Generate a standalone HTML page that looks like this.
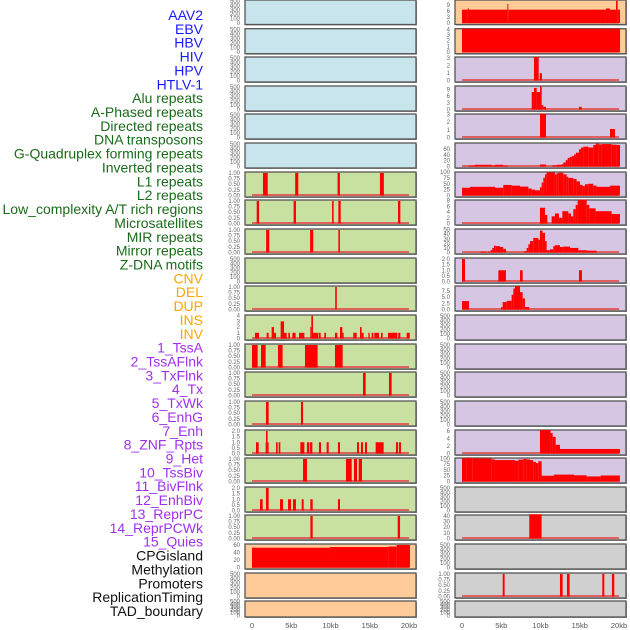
<!DOCTYPE html>
<html><head><meta charset="utf-8">
<style>
html,body{margin:0;padding:0;background:#fff;}
svg{display:block;font-family:"Liberation Sans",sans-serif;}
</style></head>
<body>
<svg id="chart" width="630" height="630" viewBox="0 0 630 630"></svg>
<script>
// ---- legend labels ----
const labelNames = ["AAV2","EBV","HBV","HIV","HPV","HTLV-1","Alu repeats","A-Phased repeats","Directed repeats","DNA transposons","G-Quadruplex forming repeats","Inverted repeats","L1 repeats","L2 repeats","Low_complexity A/T rich regions","Microsatellites","MIR repeats","Mirror repeats","Z-DNA motifs","CNV","DEL","DUP","INS","INV","1_TssA","2_TssAFlnk","3_TxFlnk","4_Tx","5_TxWk","6_EnhG","7_Enh","8_ZNF_Rpts","9_Het","10_TssBiv","11_BivFlnk","12_EnhBiv","13_ReprPC","14_ReprPCWk","15_Quies","CPGisland","Methylation","Promoters","ReplicationTiming","TAD_boundary"];
const labelGroups = [6,13,5,15,5];
const groupColors = ["#1a1aff","#1a6b1a","#ffa500","#a030f0","#111111"];

// ---- x axis ----
const xTicks = [0,5,10,15,20];
const xTickLabels = ["0","5kb","10kb","15kb","20kb"];

// ---- tick sets ----
const ticksEmpty = [0,100,200,300,400,500];
const ticksUnit = [0,0.25,0.5,0.75,1];
const ticksTwo = [0,0.5,1,1.5,2];

// ---- left column data: [startKb, endKb, value] ----
const segL06 = [[1.4,2.0,1],[5.5,5.9,1],[10.9,11.2,1],[16.3,16.8,1]];
const segL07 = [[0.6,0.9,1],[5.3,5.6,1],[10.2,10.4,1],[11.0,11.3,1],[18.6,18.9,1]];
const segL08 = [[1.8,2.2,1],[7.4,7.8,1],[11.0,11.2,1]];
const segL10 = [[10.6,10.8,1]];
const segL11 = [[0.38,0.89,1],[1.87,2.12,1],[2.5,2.8,2],[2.8,3.06,1],[3.65,4.08,3],[4.08,4.42,1],[4.63,4.84,1],[5.14,5.56,1],[5.99,6.67,1],[7.43,7.56,2],[7.56,7.77,4],[7.77,8.02,1],[8.02,8.45,1],[8.53,8.75,1],[9.21,9.43,1],[10.57,10.87,1],[11.21,11.51,2],[11.51,11.68,1],[12.91,13.33,1],[13.76,13.97,2],[13.97,14.22,1],[14.82,14.99,1],[15.24,15.46,1],[15.58,16.18,1],[16.43,16.64,1],[17.32,18.51,1],[18.64,18.9,1],[19.7,20.1,1]];
const segL12 = [[0,0.72,1],[1.15,1.74,1],[3.31,3.9,1],[6.75,8.36,1],[10.57,11.55,1]];
const segL13 = [[14.14,14.48,1],[17.45,17.79,1]];
const segL14 = [[1.78,2.12,1],[6.24,6.5,1]];
const segL15 = [[0.51,0.85,1],[1.74,1.78,1],[1.78,1.99,2],[1.99,2.12,1],[3.06,3.27,1],[3.4,3.61,1],[6.16,6.67,1],[7.0,7.26,1],[7.35,7.69,1],[8.53,8.79,1],[9.51,9.77,1],[10.95,11.21,1],[13.38,13.63,1],[13.88,14.14,1],[14.39,14.65,1],[15.75,16.77,1],[18.34,18.6,1],[18.72,18.98,1]];
const segL16 = [[6.5,7.0,1],[11.97,12.7,1],[12.99,13.38,1],[13.59,14.01,1]];
const segL17 = [[1.02,1.36,1],[1.78,2.12,2],[3.57,3.95,1],[4.59,4.97,1],[5.22,5.6,1],[6.33,6.58,1],[7.43,7.73,1],[10.95,11.21,1]];
const segL18 = [[7.44,7.73,1],[18.56,18.86,1]];
const segL19 = [[0,9.94,52.8],[9.94,17.37,54.6],[17.37,18.43,56],[18.43,20.13,60]];

// ---- right column data ----
const segR00 = [[0,0.72,6.6],[0.72,0.89,7.2],[0.89,5.78,6.6],[5.78,5.9,9.5],[5.9,18.34,6.6],[18.34,18.85,7.2],[18.85,19.62,6.6],[19.62,19.83,11],[19.83,20.13,6.6]];
const segR01 = [[0,20.13,4.1]];
const segR02 = [[9.17,9.77,3.1],[9.9,10.19,0.96]];
const segR03 = [[8.88,9.17,7.8],[9.17,9.51,9.6],[9.51,9.94,7.8],[9.94,10.15,10.3],[10.15,10.36,2],[10.36,10.7,1.2],[14.9,15.24,1.2]];
const segR04 = [[9.94,10.7,3.1],[18.85,19.49,1.1]];
const segR05 = [[0.81,1.66,3],[1.66,3.78,6],[3.78,4.2,3],[4.2,5.27,6],[5.27,5.82,3],[9.94,10.7,7],[11.51,12.06,4],[12.06,12.7,6],[12.7,12.91,8],[12.91,13.21,14],[13.21,13.46,22],[13.46,13.72,30],[13.72,13.97,33],[13.97,14.27,36],[14.27,14.52,42],[14.52,14.9,48],[14.9,15.16,60],[15.16,15.46,66],[15.46,16.09,69],[16.09,16.73,66],[16.73,17.07,75],[17.07,17.41,80],[17.41,17.79,77],[17.79,19.07,78],[19.07,19.7,76],[19.7,20.13,75]];
const segR06 = [[0,1.02,33],[1.02,4.2,37],[4.2,5.26,33],[5.26,6.32,45],[6.32,7.39,42],[7.39,8.45,38],[8.45,8.87,30],[8.87,9.3,25],[9.3,9.93,22],[9.93,10.15,35],[10.15,10.36,55],[10.36,10.57,75],[10.57,10.78,90],[10.78,11.84,98],[11.84,12.06,90],[12.06,12.27,95],[12.27,12.9,97],[12.9,13.33,90],[13.33,13.54,80],[13.54,14.18,75],[14.18,14.6,70],[14.6,15.03,60],[15.03,15.37,45],[15.37,15.66,40],[15.66,16.09,48],[16.09,16.73,50],[16.73,17.15,42],[17.15,18.85,37],[18.85,20.12,42]];
const segR07 = [[9.93,10.57,5.5],[10.57,10.87,3],[11.42,11.84,2.5],[11.84,12.35,3.5],[12.35,12.78,2],[12.78,13.54,4.3],[13.54,13.88,3.5],[13.88,14.18,2.5],[14.18,14.48,5],[14.48,14.73,6.5],[14.73,15.88,8.3],[15.88,16.22,6.5],[16.22,17.02,5.3],[17.02,19.06,4.3],[19.06,20.12,3.3]];
const segR08 = [[2.37,3.14,1.5],[3.35,3.65,1.5],[3.65,3.86,5],[3.86,4.07,10],[4.07,4.29,15],[4.29,4.84,14],[4.84,5.26,12],[5.26,5.6,8],[7.94,8.23,3],[8.23,8.45,10],[8.45,8.66,18],[8.66,9.08,25],[9.08,9.72,32],[9.72,9.93,28],[9.93,10.27,48],[10.27,10.57,43],[10.57,10.78,25],[10.78,11.2,5],[11.2,11.63,7],[11.63,11.84,14],[11.84,12.48,16],[12.48,12.9,12],[12.9,13.75,13],[13.75,14.82,10],[14.82,15.88,5],[15.88,17.15,4]];
const segR09 = [[0,0.38,2],[4.63,5.6,1],[7.39,7.73,1],[14.9,15.28,1]];
const segR10 = [[0,0.89,3.4],[4.97,5.18,1],[5.18,5.69,3],[5.69,6.32,3.5],[6.32,6.54,6],[6.54,6.75,8.5],[6.75,7.39,9.5],[7.39,7.73,7],[7.73,8.02,4.5],[8.02,8.57,1]];
const segR15 = [[9.93,11.29,6.2],[11.29,11.55,5.4],[11.55,11.93,4.4],[11.93,12.48,2.3],[12.48,20.12,1.2]];
const segR16 = [[0,0.59,100],[0.59,1.31,103],[1.31,3.78,100],[3.78,4.2,96],[4.2,6.75,93],[6.75,7.18,90],[7.18,7.81,95],[7.81,8.23,98],[8.23,8.66,96],[8.66,9.08,93],[9.08,9.42,85],[9.42,9.72,80],[9.72,10.15,88],[10.15,11.72,25],[11.72,14.27,30],[14.27,15.88,27],[15.88,17.66,22],[17.66,20.12,26]];
const segR18 = [[8.57,10.14,43]];
const segR20 = [[5.18,5.43,1],[12.48,12.82,1],[13.37,13.71,1],[17.87,18.13,1],[19.1,19.4,1]];

const colors = {blue:"#c8e4ec",green:"#c8e0a0",orange:"#ffcc99",purple:"#d6c6e4",gray:"#d0d0d0"};
const tops = [0,28.7,57,86,114,143,172,200,229,258,286,315,344,372,401,430,458,487,515,544,573,601];

// panel spec: [colour, segments, domainMax, ticks, tickLabels]
const E = [null, 522, ticksEmpty, null];
const U = (s)=>[s,1.044,ticksUnit,["0.00","0.25","0.50","0.75","1.00"]];
const left = [
 ["blue",...E],["blue",...E],["blue",...E],["blue",...E],["blue",...E],["blue",...E],
 ["green",...U(segL06)],["green",...U(segL07)],["green",...U(segL08)],["green",...E],["green",...U(segL10)],
 ["green",segL11,4.12,[0,1,2,3,4],null],
 ["green",...U(segL12)],["green",...U(segL13)],["green",...U(segL14)],
 ["green",segL15,2.09,ticksTwo,["0.0","0.5","1.0","1.5","2.0"]],
 ["green",...U(segL16)],
 ["green",segL17,2.09,ticksTwo,["0.0","0.5","1.0","1.5","2.0"]],
 ["green",...U(segL18)],
 ["orange",segL19,62.7,[0,20,40,60],null],["orange",...E],["orange",...E]
];
const right = [
 ["orange",segR00,11.4,[0,3,6,9],null],["orange",segR01,4.1,[0,1,2,3,4],null],
 ["purple",segR02,3.1,[0,1,2,3],null],["purple",segR03,10.45,[0,3,6,9],null],["purple",segR04,3.05,[0,1,2,3],null],
 ["purple",segR05,81.7,[0,20,40,60],null],["purple",segR06,100,[0,25,50,75,100],null],
 ["purple",segR07,8.2,[0,2,4,6,8],null],["purple",segR08,51.5,[0,10,20,30,40,50],null],
 ["purple",segR09,2.09,ticksTwo,["0.0","0.5","1.0","1.5","2.0"]],
 ["purple",segR10,9.5,[0,2.5,5,7.5],["0.0","2.5","5.0","7.5"]],
 ["purple",...E],["purple",...E],["purple",...E],["purple",...E],
 ["purple",segR15,6.2,[0,2,4,6],null],["purple",segR16,102,[0,25,50,75,100],null],
 ["gray",...E],["gray",segR18,41.7,[0,10,20,30,40],null],["gray",...E],
 ["gray",...U(segR20)],["gray",...E]
];

const NS="http://www.w3.org/2000/svg";
const svg=document.getElementById('chart');
function mk(tag,attrs,parent){const e=document.createElementNS(NS,tag);for(const k in attrs)e.setAttribute(k,attrs[k]);(parent||svg).appendChild(e);return e;}

// legend labels
let li=0;
labelGroups.forEach((n,g)=>{for(let j=0;j<n;j++){const t=mk('text',{x:203,y:15+li*13.86+5,'text-anchor':'end','font-size':'14',fill:groupColors[g]});


t.textContent=labelNames[li];li++;}});

function drawColumn(specs,px0,colName){
 const x0=px0, x1=px0+171; // panel rect
 const xs=(kb)=>px0+7+kb*7.85;
 specs.forEach((sp,i)=>{
  const [col,segs,dmax,ticks,tl]=sp;
  const top=tops[i]; const h=(i===21)?16:(i===0?24.5:25);
  const g=mk('g',{});
  
  
  mk('rect',{x:x0+1,y:top+1,width:171,height:h,fill:'#999'},g);
  mk('rect',{x:x0,y:top,width:171,height:h,fill:colors[col],stroke:'#555','stroke-width':1.3},g);
  const y0=top+h-1.5; const ys=(v)=>y0-(v/dmax)*(y0-top);
  if(segs){
   mk('rect',{x:xs(0),y:y0-1.5,width:xs(20)-xs(0),height:2,fill:'#e06060'},g);
   segs.forEach(s=>{const r=mk('rect',{x:xs(s[0]),y:ys(s[2]),width:Math.max(0.8,xs(s[1])-xs(s[0])),height:y0-ys(s[2]),fill:'#ff0000'},g);
    
    });
  }
  ticks.forEach((tv,k)=>{const t=mk('text',{x:x0-5,y:ys(tv)+2,'text-anchor':'end','font-size':'6',fill:'#666'},g);
   
   
   t.textContent=tl?tl[k]:String(tv);});
 });
 xTicks.forEach((v,k)=>{const t=mk('text',{x:xs(v),y:628,'text-anchor':'middle','font-size':'7.5',fill:'#555'});
  
  
  t.textContent=xTickLabels[k];});
}
drawColumn(left,245,'left');
drawColumn(right,455,'right');
</script>
</body></html>
